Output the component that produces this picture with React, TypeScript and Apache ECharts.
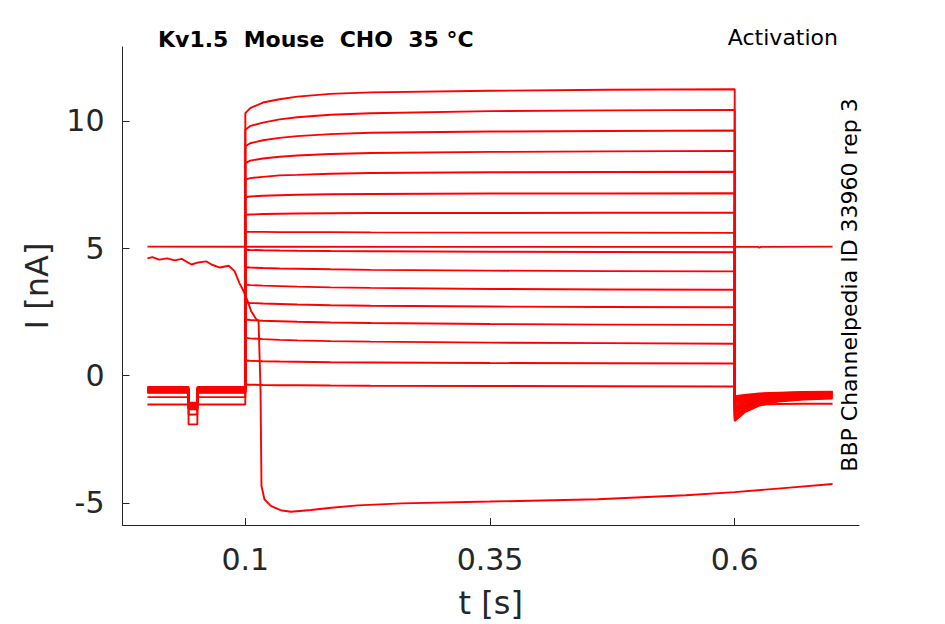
import React, { useEffect, useRef } from "react";
import * as echarts from "echarts";

// time grid (s) for each part of the protocol
const preTimes = [0, 0.042, 0.042, 0.051, 0.051, 0.1];
const stepTimes = [0.1, 0.105, 0.118, 0.135, 0.153, 0.187, 0.228, 0.35, 0.47, 0.6];
const tailTimes = [0.6, 0.61, 0.625, 0.645, 0.67, 0.7];

// holding current before the step and during the short test pulse (nA)
const holding = [-0.45, -0.48, -0.5, -0.52, -0.54, -0.56, -0.58, -0.6, -0.62, -0.64, -0.66, -0.68, -0.55, -0.85, -1.14, -0.6];
const pulse = [-1.07, -1.1, -1.12, -1.14, -1.16, -1.18, -1.2, -1.22, -1.25, -1.28, -1.3, -1.33, -1.15, -1.53, -1.92, -1.2];

// current during the activation step (nA), one row per sweep
const stepValues = [
  [10.3, 10.5, 10.72, 10.85, 10.95, 11.06, 11.12, 11.18, 11.22, 11.24],
  [9.65, 9.8, 9.93, 10.06, 10.14, 10.24, 10.3, 10.38, 10.41, 10.43],
  [9.0, 9.12, 9.24, 9.33, 9.4, 9.48, 9.53, 9.58, 9.6, 9.62],
  [8.34, 8.44, 8.52, 8.59, 8.64, 8.7, 8.74, 8.78, 8.8, 8.82],
  [7.69, 7.75, 7.8, 7.86, 7.88, 7.92, 7.95, 7.98, 7.99, 8.0],
  [7.0, 7.03, 7.06, 7.08, 7.1, 7.12, 7.13, 7.15, 7.15, 7.16],
  [6.31, 6.32, 6.34, 6.35, 6.36, 6.37, 6.38, 6.38, 6.39, 6.39],
  [5.64, 5.64, 5.64, 5.63, 5.63, 5.63, 5.62, 5.61, 5.61, 5.6],
  [4.94, 4.93, 4.92, 4.91, 4.9, 4.89, 4.88, 4.86, 4.85, 4.84],
  [4.25, 4.24, 4.22, 4.2, 4.19, 4.17, 4.15, 4.12, 4.1, 4.09],
  [3.57, 3.55, 3.53, 3.51, 3.49, 3.46, 3.44, 3.4, 3.38, 3.37],
  [2.87, 2.85, 2.83, 2.81, 2.79, 2.76, 2.74, 2.71, 2.69, 2.68],
  [2.2, 2.18, 2.15, 2.13, 2.11, 2.08, 2.06, 2.02, 2.0, 1.99],
  [1.48, 1.46, 1.43, 1.4, 1.38, 1.35, 1.33, 1.29, 1.27, 1.25],
  [0.59, 0.58, 0.56, 0.55, 0.54, 0.52, 0.51, 0.49, 0.48, 0.47],
  [-0.35, -0.36, -0.37, -0.38, -0.38, -0.39, -0.4, -0.41, -0.42, -0.43],
];

// tail currents after the step (nA)
const tailValues = [
  [-1.79, -1.45, -1.18, -1.02, -0.94, -0.9],
  [-1.72, -1.4, -1.14, -0.99, -0.92, -0.88],
  [-1.65, -1.34, -1.1, -0.96, -0.89, -0.86],
  [-1.58, -1.29, -1.06, -0.93, -0.87, -0.84],
  [-1.5, -1.23, -1.02, -0.9, -0.85, -0.82],
  [-1.43, -1.18, -0.99, -0.88, -0.83, -0.8],
  [-1.36, -1.13, -0.95, -0.85, -0.81, -0.78],
  [-1.28, -1.07, -0.92, -0.83, -0.79, -0.76],
  [-1.2, -1.02, -0.88, -0.8, -0.76, -0.74],
  [-1.12, -0.97, -0.85, -0.78, -0.74, -0.72],
  [-1.05, -0.92, -0.82, -0.76, -0.72, -0.7],
  [-0.98, -0.88, -0.79, -0.73, -0.7, -0.68],
  [-0.92, -0.84, -0.76, -0.71, -0.68, -0.66],
  [-0.87, -0.8, -0.73, -0.69, -0.66, -0.65],
  [-1.3, -1.2, -1.14, -1.12, -1.11, -1.11],
  [-0.81, -0.76, -0.7, -0.67, -0.65, -0.64],
];

// sweep that stays flat
const flatTimes = [0, 0.3, 0.6, 0.624, 0.625, 0.627, 0.7];
const flatValues = [5.06, 5.05, 5.05, 5.05, 5.02, 5.05, 5.06];

// sweep that breaks down shortly after the step
const brokenTimes = [
  0, 0.005, 0.012, 0.02, 0.028, 0.035, 0.045, 0.052, 0.06, 0.066, 0.074, 0.083, 0.089,
  0.094, 0.0975, 0.1025, 0.106, 0.111, 0.1135, 0.1155, 0.1165, 0.1195, 0.126, 0.136,
  0.1465, 0.167, 0.188, 0.215, 0.26, 0.35, 0.46, 0.55, 0.6, 0.65, 0.7,
];
const brokenValues = [
  4.6, 4.65, 4.55, 4.6, 4.52, 4.58, 4.36, 4.44, 4.48, 4.35, 4.24, 4.31, 4.1,
  3.63, 3.37, 2.91, 2.52, 2.22, 2.15, -0.5, -4.34, -4.86, -5.12, -5.29,
  -5.35, -5.28, -5.19, -5.1, -5.02, -4.95, -4.86, -4.7, -4.58, -4.42, -4.26,
];

const xTicks = [0.1, 0.35, 0.6];
const yTicks = [-5, 0, 5, 10];

const FONT = "DejaVu Sans";
const RED = "#ff0000";
const AXIS = "#262626";

function sweep(i: number) {
  const pts: number[][] = [];
  const pre = [holding[i], holding[i], pulse[i], pulse[i], holding[i], holding[i]];
  preTimes.forEach((t, k) => pts.push([t, pre[k]]));
  stepTimes.forEach((t, k) => pts.push([t, stepValues[i][k]]));
  tailTimes.forEach((t, k) => pts.push([t, tailValues[i][k]]));
  return pts;
}

export default function App() {
  const ref = useRef<HTMLDivElement>(null);

  useEffect(() => {
    if (!ref.current) return;
    const chart = echarts.init(ref.current, null, { renderer: "svg" });

    const line = (data: number[][]) => ({
      type: "line",
      data,
      showSymbol: false,
      symbol: "none",
      silent: true,
      lineStyle: { color: RED, width: 1.9 },
      itemStyle: { color: RED },
    });

    const series: any[] = stepValues.map((_, i) => line(sweep(i)));
    series.push(line(flatTimes.map((t, k) => [t, flatValues[k]])));
    series.push(line(brokenTimes.map((t, k) => [t, brokenValues[k]])));

    chart.setOption({
      animation: false,
      grid: { left: 122.5, right: 86, top: 47, bottom: 98 },
      xAxis: {
        type: "value",
        min: -0.0255,
        max: 0.727,
        name: "t [s]",
        nameLocation: "middle",
        nameGap: 62,
        nameTextStyle: { fontFamily: FONT, fontSize: 32, color: AXIS },
        splitLine: { show: false },
        axisLine: { onZero: false, lineStyle: { color: AXIS, width: 1 } },
        axisTick: {
          inside: true,
          length: 7,
          customValues: xTicks,
          lineStyle: { color: AXIS },
        },
        axisLabel: {
          customValues: xTicks,
          fontFamily: FONT,
          fontSize: 30,
          color: AXIS,
          margin: 19,
          formatter: (v: number) => String(v),
        },
      },
      yAxis: {
        type: "value",
        min: -5.87,
        max: 12.9,
        name: "I [nA]",
        nameLocation: "middle",
        nameGap: 70,
        nameRotate: 90,
        nameTextStyle: { fontFamily: FONT, fontSize: 32, color: AXIS },
        splitLine: { show: false },
        axisLine: { show: true, onZero: false, lineStyle: { color: AXIS, width: 1 } },
        axisTick: {
          show: true,
          inside: true,
          length: 7,
          customValues: yTicks,
          lineStyle: { color: AXIS },
        },
        axisLabel: {
          customValues: yTicks,
          fontFamily: FONT,
          fontSize: 30,
          color: AXIS,
          margin: 18,
          formatter: (v: number) => String(v),
        },
      },
      graphic: [
        {
          type: "text",
          left: 158,
          top: 28,
          style: {
            text: "Kv1.5  Mouse  CHO  35 °C",
            fontFamily: FONT,
            fontWeight: "bold",
            fontSize: 22,
            fill: "#000",
          },
        },
        {
          type: "text",
          right: 107,
          top: 26,
          style: {
            text: "Activation",
            fontFamily: FONT,
            fontSize: 22,
            fill: "#000",
          },
        },
        {
          type: "text",
          x: 849,
          y: 285,
          rotation: Math.PI / 2,
          style: {
            text: "BBP Channelpedia ID 33960 rep 3",
            fontFamily: FONT,
            fontSize: 22,
            fill: "#000",
            align: "center",
            verticalAlign: "middle",
          },
        },
      ],
      series,
    });

    return () => chart.dispose();
  }, []);

  return (
    <div
      ref={ref}
      style={{ position: "fixed", left: 0, top: 0, width: 945, height: 624, background: "#fff" }}
    />
  );
}
